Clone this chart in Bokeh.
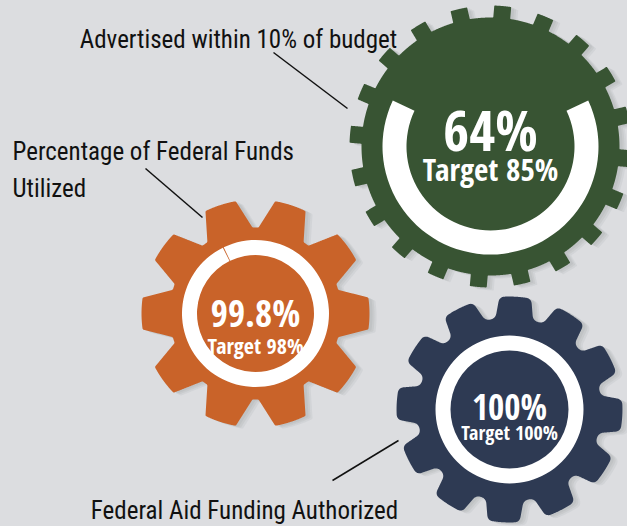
import numpy as np
from bokeh.plotting import figure
from bokeh.models import Range1d
from bokeh.core.properties import value
from bokeh.embed import file_html
from bokeh.resources import INLINE

# ---------------- data ----------------
metric_names = ["Advertised within 10% of budget",
                "Percentage of Federal Funds\nUtilized",
                "Federal Aid Funding Authorized"]
actual_pct = [64, 99.8, 100]
target_pct = [85, 98, 100]
gear_colors = ["#385433", "#c96329", "#2e3a53"]

# ---------------- layout (reference pixel coords, y down) ----------------
W, H = 627, 526
BG = "#dcdde0"
FONT_LABEL = "Roboto Condensed"
FONT_NUM = "Open Sans Condensed"

gears = [
    dict(cx=490, cy=146, n=20, rr=129, rt=141, hr=8.5, ht=8.5, ph=85, sm=0.8,
         ri=84, ro=108, ac=-90, bs=56, ss=31, bb=128, sb=168),
    dict(cx=255, cy=313, n=10, rr=86, rt=114, hr=24, ht=16, ph=0, sm=1.0,
         ri=58.5, ro=73.5, ac=-64, bs=37, ss=22, bb=312, sb=344),
    dict(cx=509, cy=409, n=12, rr=92, rt=113, hr=19, ht=16, ph=87, sm=5,
         ri=59, ro=74, ac=-90, bs=35, ss=20, bb=406, sb=432),
]
label_pos = [  # x, baseline y, align
    (238, 39, "center"),
    (12, 151, "left"),
    (244, 510, "center"),
]
label_size = "25px"
leader_lines = [((273, 52), (347, 108)), ((145, 168), (202, 217)), ((332, 480), (398, 440))]


def Y(y):
    return H - y


def gear_outline(cx, cy, n, rr, rt, hr, ht, ph, sm):
    pitch = 2 * np.pi / n
    ang, rad = [], []
    for i in range(n):
        c = np.radians(ph) + i * pitch
        ar, at = hr / rr, ht / rt
        ang.append(c - ar); rad.append(rr)
        for t in np.linspace(c - at, c + at, 10):
            ang.append(t); rad.append(rt)
        ang.append(c + ar); rad.append(rr)
        for t in np.linspace(c + ar, c + pitch - ar, 16)[1:-1]:
            ang.append(t); rad.append(rr)
    ang, rad = np.array(ang), np.array(rad)
    x = cx + rad * np.cos(ang)
    y = Y(cy) + rad * np.sin(ang)
    xy = np.column_stack([x, y])
    xy = np.vstack([xy, xy[:1]])
    seg = np.hypot(*np.diff(xy, axis=0).T)
    s = np.concatenate([[0], np.cumsum(seg)])
    step = 0.5
    u = np.arange(0, s[-1], step)
    xs = np.interp(u, s, xy[:, 0])
    ys = np.interp(u, s, xy[:, 1])
    k = int(sm / step) * 2 + 1
    if k > 1:
        w = np.ones(k) / k
        def circ(a):
            ext = np.concatenate([a[-k:], a, a[:k]])
            return np.convolve(ext, w, mode="same")[k:-k]
        xs, ys = circ(xs), circ(ys)
    return xs, ys


p = figure(width=W, height=H, x_range=Range1d(0, W), y_range=Range1d(0, H),
           output_backend="svg", toolbar_location=None,
           x_axis_location=None, y_axis_location=None, min_border=0)
p.grid.visible = False
p.outline_line_color = None
p.background_fill_color = BG
p.border_fill_color = BG

for g, col, act, tgt in zip(gears, gear_colors, actual_pct, target_pct):
    xs, ys = gear_outline(g["cx"], g["cy"], g["n"], g["rr"], g["rt"], g["hr"], g["ht"], g["ph"], g["sm"])
    # soft shadow
    for (dx, dy, a) in [(7, -3, 0.18), (5, -2, 0.22), (3, -1, 0.25)]:
        p.patch(xs + dx, ys + dy, fill_color="#a9abaf", fill_alpha=a, line_color=None)
    p.patch(xs, ys, fill_color=col, line_color=None)
    # progress ring
    frac = min(act / 100.0, 0.99999)
    span = frac * 2 * np.pi
    c = np.radians(g["ac"])
    p.annular_wedge(x=[g["cx"]], y=[Y(g["cy"])], inner_radius=g["ri"], outer_radius=g["ro"],
                    start_angle=c - span / 2, end_angle=c + span / 2, direction="anticlock",
                    fill_color="white", line_color=None)
    p.text(x=[g["cx"]], y=[Y(g["bb"])], text=[f"{act:g}%"], text_align="center",
           text_baseline="alphabetic", text_color="white", text_font=value(FONT_NUM),
           text_font_style="bold", text_font_size=f"{g['bs']}px")
    p.text(x=[g["cx"]], y=[Y(g["sb"])], text=[f"Target {tgt:g}%"], text_align="center",
           text_baseline="alphabetic", text_color="white", text_font=value(FONT_NUM),
           text_font_style="bold", text_font_size=f"{g['ss']}px")

for name, (lx, ly, al) in zip(metric_names, label_pos):
    lines = name.split("\n")
    for j, ln in enumerate(lines):
        p.text(x=[lx], y=[Y(ly + 37 * j)], text=[ln], text_align=al, text_baseline="alphabetic",
               text_color="#111111", text_font=value(FONT_LABEL), text_font_size=label_size)

for (a, b) in leader_lines:
    p.line([a[0], b[0]], [Y(a[1]), Y(b[1])], line_color="#111111", line_width=1.5)

html = file_html(p, INLINE, title="Gears")
html = html.replace("</head>", "<style>html,body{background:%s;}</style></head>" % BG, 1)
open("out.html", "w").write(html)
